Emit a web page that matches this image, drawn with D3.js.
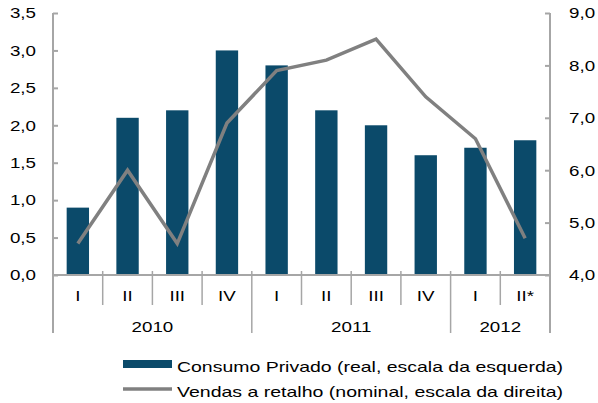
<!DOCTYPE html>
<html>
<head>
<meta charset="utf-8">
<script src="https://cdn.jsdelivr.net/npm/d3@7"></script>
<style>
  body { margin: 0; background: #fff; }
  text { font-family: "Liberation Sans", Arial, sans-serif; fill: #000; }
</style>
</head>
<body>
<div id="chart"></div>
<script>
const quarters = ['I', 'II', 'III', 'IV', 'I', 'II', 'III', 'IV', 'I', 'II*'];
const years = [
  { label: '2010', start: 0, end: 4 },
  { label: '2011', start: 4, end: 8 },
  { label: '2012', start: 8, end: 10 }
];
const consumo = [0.9, 2.1, 2.2, 3.0, 2.8, 2.2, 2.0, 1.6, 1.7, 1.8];
const vendas = [4.6, 6.0, 4.6, 6.9, 7.9, 8.1, 8.5, 7.4, 6.6, 4.7];
const leftTicks = [0, 0.5, 1, 1.5, 2, 2.5, 3, 3.5];
const rightTicks = [4, 5, 6, 7, 8, 9];
const legendLabels = [
  'Consumo Privado (real, escala da esquerda)',
  'Vendas a retalho (nominal, escala da direita)'
];

const width = 598, height = 403;
const margins = { top: 13, left: 53, right: 48, bottom: 128 };
const chartWidth = width - margins.left - margins.right;
const chartHeight = height - margins.top - margins.bottom;
const axisColor = '#a6a6a6';
const barColor = '#0b4a6a';
const lineColor = '#808080';
const stretch = 1.25; // text in the original is drawn wider than normal

const svg = d3.select('#chart').append('svg')
  .attr('width', width)
  .attr('height', height);

const plotG = svg.append('g')
  .attr('transform', `translate(${margins.left},${margins.top})`);

const xScale = d3.scaleBand()
  .domain(d3.range(quarters.length))
  .range([0, chartWidth])
  .paddingInner(0.55)
  .paddingOuter(0.275);

const yLeft = d3.scaleLinear().domain([0, 3.5]).range([chartHeight, 0]);
const yRight = d3.scaleLinear().domain([4, 9]).range([chartHeight, 0]);

const fmt = d => d3.format('.1f')(d).replace('.', ',');

// bars
plotG.selectAll('rect.bar')
  .data(consumo)
  .enter()
  .append('rect')
  .attr('class', 'bar')
  .attr('x', (d, i) => xScale(i))
  .attr('width', xScale.bandwidth())
  .attr('y', d => yLeft(d))
  .attr('height', d => chartHeight - yLeft(d))
  .attr('fill', barColor);

// line
const line = d3.line()
  .x((d, i) => xScale(i) + xScale.bandwidth() / 2)
  .y(d => yRight(d));

plotG.append('path')
  .attr('d', line(vendas))
  .attr('fill', 'none')
  .attr('stroke', lineColor)
  .attr('stroke-width', 3.5);

// left axis
const yAxisL = d3.axisLeft(yLeft)
  .tickValues(leftTicks)
  .tickSizeInner(-5)
  .tickSizeOuter(0)
  .tickPadding(17)
  .tickFormat(fmt);

const leftAxisEl = plotG.append('g').call(yAxisL);

// right axis
const yAxisR = d3.axisRight(yRight)
  .tickValues(rightTicks)
  .tickSizeInner(-5)
  .tickSizeOuter(0)
  .tickPadding(19)
  .tickFormat(fmt);

const rightAxisEl = plotG.append('g')
  .attr('transform', `translate(${chartWidth},0)`)
  .call(yAxisR);

[leftAxisEl, rightAxisEl].forEach(el => {
  el.select('.domain').remove();
  el.selectAll('line').attr('stroke', axisColor).attr('stroke-width', 2);
  el.selectAll('text')
    .style('font-size', '15px')
    .style('font-family', '"Liberation Sans", Arial, sans-serif');
});

// vertical axis lines extending below
const extDown = 58;
[0, chartWidth].forEach(x => {
  plotG.append('line')
    .attr('x1', x).attr('x2', x)
    .attr('y1', 0).attr('y2', chartHeight + extDown)
    .attr('stroke', axisColor).attr('stroke-width', 2);
});

// x axis baseline
plotG.append('line')
  .attr('x1', 0).attr('x2', chartWidth)
  .attr('y1', chartHeight).attr('y2', chartHeight)
  .attr('stroke', axisColor).attr('stroke-width', 2);

// category separators
const step = xScale.step();
const bandLeft = i => xScale(i) - xScale.paddingInner() * step / 2;
d3.range(1, quarters.length).forEach(i => {
  const isYear = years.some(y => y.start === i);
  plotG.append('line')
    .attr('x1', bandLeft(i)).attr('x2', bandLeft(i))
    .attr('y1', chartHeight - 4)
    .attr('y2', chartHeight + (isYear ? extDown : 30))
    .attr('stroke', axisColor).attr('stroke-width', 1.5);
});

// quarter labels
plotG.selectAll('text.q')
  .data(quarters)
  .enter()
  .append('text')
  .attr('class', 'q')
  .attr('x', (d, i) => xScale(i) + xScale.bandwidth() / 2)
  .attr('y', chartHeight + 26)
  .attr('text-anchor', 'middle')
  .style('font-size', '15px')
  .text(d => d);

// year labels
plotG.selectAll('text.yr')
  .data(years)
  .enter()
  .append('text')
  .attr('class', 'yr')
  .attr('x', d => (bandLeft(d.start) + (d.end < quarters.length ? bandLeft(d.end) : chartWidth)) / 2)
  .attr('y', chartHeight + 57)
  .attr('text-anchor', 'middle')
  .style('font-size', '15px')
  .text(d => d.label);

// widen chart text
svg.selectAll('text').each(function () {
  const w = this.getComputedTextLength();
  d3.select(this)
    .attr('textLength', w * stretch)
    .attr('lengthAdjust', 'spacingAndGlyphs');
});

// legend
const legend = svg.append('g').attr('transform', 'translate(123,0)');
legend.append('rect')
  .attr('x', 0).attr('y', 360)
  .attr('width', 49).attr('height', 8)
  .attr('fill', barColor);
legend.append('line')
  .attr('x1', 0).attr('x2', 49)
  .attr('y1', 389).attr('y2', 389)
  .attr('stroke', lineColor).attr('stroke-width', 3.5);
legend.selectAll('text.leg')
  .data(legendLabels)
  .enter()
  .append('text')
  .attr('class', 'leg')
  .attr('x', 54)
  .attr('y', (d, i) => 372 + i * 25)
  .attr('textLength', 386)
  .attr('lengthAdjust', 'spacingAndGlyphs')
  .style('font-size', '15px')
  .text(d => d);
</script>
</body>
</html>
